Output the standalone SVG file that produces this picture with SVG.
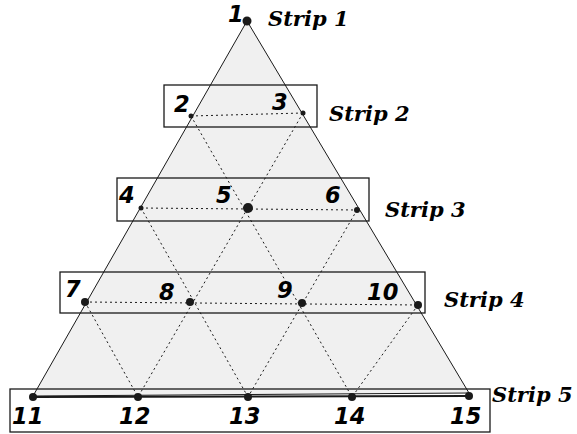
<svg xmlns="http://www.w3.org/2000/svg" width="577" height="434" viewBox="0 0 577 434">
<style>
.tri{fill:#f0f0f0;stroke:#1a1a1a;stroke-width:1}
.box{fill:none;stroke:#1a1a1a;stroke-width:1.3}
.dot{stroke:#1a1a1a;stroke-width:1;stroke-dasharray:2 3;fill:none}
.n{fill:#1a1a1a}
.num{font-family:"DejaVu Sans",sans-serif;font-weight:bold;font-style:italic;font-size:22.5px;fill:#000}
.lab{font-family:"DejaVu Serif",serif;font-weight:bold;font-style:italic;font-size:21px;fill:#000}
</style>
<rect width="577" height="434" fill="#fff"/>
<polygon class="tri" points="247,21 33,396 469,393"/>
<g id="strips">
<rect class="box" x="164" y="85" width="153" height="42"/>
<rect class="box" x="117" y="178" width="252" height="43"/>
<rect class="box" x="60" y="272" width="365" height="41"/>
<rect class="box" x="10" y="389" width="480" height="43"/>
</g>
<g id="connectors">
<line class="dot" x1="191" y1="116" x2="303" y2="113"/>
<line class="dot" x1="141" y1="208" x2="357" y2="210"/>
<line class="dot" x1="85" y1="302" x2="418" y2="305"/>
<line class="dot" x1="303" y1="113" x2="138" y2="397"/>
<line class="dot" x1="357" y1="210" x2="248" y2="397"/>
<line class="dot" x1="418" y1="305" x2="352" y2="397"/>
<line class="dot" x1="191" y1="116" x2="352" y2="397"/>
<line class="dot" x1="141" y1="208" x2="248" y2="397"/>
<line class="dot" x1="85" y1="302" x2="138" y2="397"/>
<line x1="33" y1="397" x2="469" y2="396" stroke="#1a1a1a" stroke-width="2"/>
</g>
<g id="n1"><circle class="n" cx="247" cy="21" r="4.5"/><text class="num" x="228" y="22">1</text></g>
<g id="n2"><circle class="n" cx="191" cy="116" r="2.5"/><text class="num" x="174" y="112">2</text></g>
<g id="n3"><circle class="n" cx="303" cy="113" r="2.5"/><text class="num" x="272" y="110">3</text></g>
<g id="n4"><circle class="n" cx="141" cy="208" r="2.5"/><text class="num" x="119" y="203">4</text></g>
<g id="n5"><circle class="n" cx="248" cy="208" r="5"/><text class="num" x="216" y="203">5</text></g>
<g id="n6"><circle class="n" cx="357" cy="210" r="3"/><text class="num" x="325" y="203">6</text></g>
<g id="n7"><circle class="n" cx="85" cy="302" r="4"/><text class="num" x="65" y="297">7</text></g>
<g id="n8"><circle class="n" cx="190" cy="302" r="4"/><text class="num" x="159" y="300">8</text></g>
<g id="n9"><circle class="n" cx="302" cy="303" r="4"/><text class="num" x="277" y="298">9</text></g>
<g id="n10"><circle class="n" cx="418" cy="305" r="4"/><text class="num" x="367" y="300">10</text></g>
<g id="n11"><circle class="n" cx="33" cy="397" r="4"/><text class="num" x="12" y="424">11</text></g>
<g id="n12"><circle class="n" cx="138" cy="397" r="4"/><text class="num" x="119" y="424">12</text></g>
<g id="n13"><circle class="n" cx="248" cy="397" r="4"/><text class="num" x="229" y="424">13</text></g>
<g id="n14"><circle class="n" cx="352" cy="397" r="4"/><text class="num" x="334" y="424">14</text></g>
<g id="n15"><circle class="n" cx="469" cy="396" r="4"/><text class="num" x="450" y="424">15</text></g>
<g id="labels">
<text class="lab" x="268" y="26">Strip 1</text>
<text class="lab" x="329" y="121">Strip 2</text>
<text class="lab" x="385" y="217">Strip 3</text>
<text class="lab" x="444" y="307">Strip 4</text>
<text class="lab" x="492" y="402">Strip 5</text>
</g>
</svg>
